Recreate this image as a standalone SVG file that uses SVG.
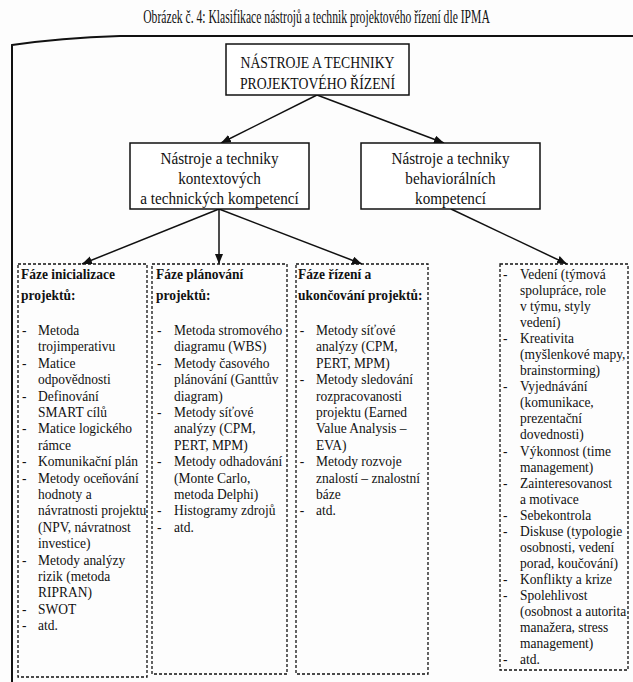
<svg xmlns="http://www.w3.org/2000/svg" width="633" height="682" viewBox="0 0 633 682">
<defs>
<marker id="arr" markerUnits="userSpaceOnUse" markerWidth="11" markerHeight="9" refX="10" refY="4" orient="auto">
<path d="M0,0 L10,4 L0,8 z" fill="#111"/>
</marker>
<style>
text{font-family:"Liberation Serif","Times New Roman",serif;fill:#111}
.title{font-size:18px}
.top{font-size:16px}
.mid{font-size:16px}
.it{font-size:15px}
.hd{font-size:15px;font-weight:bold}
.box{fill:#fff;stroke:#111;stroke-width:1.5}
.dash{fill:none;stroke:#111;stroke-width:1.3;stroke-dasharray:3 2}
.conn{stroke:#111;stroke-width:1.5;fill:none;marker-end:url(#arr)}
.frame{fill:none;stroke:#111;stroke-width:2}
</style>
</defs>
<rect width="633" height="682" fill="#fdfdfd"/>
<text class="title" transform="translate(316.5 23) scale(0.647 1)" text-anchor="middle" x="0" y="0">Obrázek č. 4: Klasifikace nástrojů a technik projektového řízení dle IPMA</text>
<path class="frame" d="M12,682 L12,45 Q60,38 120,36 L633,36"/>

<g id="connectors">
<line class="conn" x1="317" y1="95" x2="221" y2="143"/>
<line class="conn" x1="317" y1="95" x2="444" y2="143"/>
<line class="conn" x1="219" y1="209" x2="82" y2="264"/>
<line class="conn" x1="219" y1="209" x2="219" y2="264"/>
<line class="conn" x1="219" y1="209" x2="362" y2="264"/>
<line class="conn" x1="451" y1="209" x2="567" y2="264"/>
</g>

<g id="root">
<rect class="box" x="226" y="44" width="183" height="51"/>
<g transform="translate(317.5 0) scale(0.86 1)" text-anchor="middle">
<text class="top" x="0" y="68">NÁSTROJE A TECHNIKY</text>
<text class="top" x="0" y="89">PROJEKTOVÉHO ŘÍZENÍ</text>
</g>
</g>

<g id="ctx">
<rect class="box" x="130" y="143" width="179" height="66"/>
<g transform="translate(219.5 0) scale(0.95 1)" text-anchor="middle">
<text class="mid" x="0" y="164">Nástroje a techniky</text>
<text class="mid" x="0" y="184">kontextových</text>
<text class="mid" x="0" y="204">a technických kompetencí</text>
</g>
</g>

<g id="beh">
<rect class="box" x="361" y="143" width="179" height="66"/>
<g transform="translate(450.5 0) scale(0.95 1)" text-anchor="middle">
<text class="mid" x="0" y="164">Nástroje a techniky</text>
<text class="mid" x="0" y="184">behaviorálních</text>
<text class="mid" x="0" y="204">kompetencí</text>
</g>
</g>

<g id="init">
<rect class="dash" x="18" y="264" width="129" height="413"/>
<g transform="translate(21 0) scale(0.9 1)">
<text class="hd" x="0" y="279">Fáze inicializace</text>
<text class="hd" x="0" y="300">projektů:</text>
<text class="it" x="1" y="335">-</text><text class="it" x="19" y="335">Metoda</text>
<text class="it" x="19" y="351.4">trojimperativu</text>
<text class="it" x="1" y="367.8">-</text><text class="it" x="19" y="367.8">Matice</text>
<text class="it" x="19" y="384.2">odpovědnosti</text>
<text class="it" x="1" y="400.6">-</text><text class="it" x="19" y="400.6">Definování</text>
<text class="it" x="19" y="417">SMART cílů</text>
<text class="it" x="1" y="433.4">-</text><text class="it" x="19" y="433.4">Matice logického</text>
<text class="it" x="19" y="449.8">rámce</text>
<text class="it" x="1" y="466.2">-</text><text class="it" x="19" y="466.2">Komunikační plán</text>
<text class="it" x="1" y="482.6">-</text><text class="it" x="19" y="482.6">Metody oceňování</text>
<text class="it" x="19" y="499">hodnoty a</text>
<text class="it" x="19" y="515.4">návratnosti projektu</text>
<text class="it" x="19" y="531.8">(NPV, návratnost</text>
<text class="it" x="19" y="548.2">investice)</text>
<text class="it" x="1" y="564.6">-</text><text class="it" x="19" y="564.6">Metody analýzy</text>
<text class="it" x="19" y="581">rizik (metoda</text>
<text class="it" x="19" y="597.4">RIPRAN)</text>
<text class="it" x="1" y="613.8">-</text><text class="it" x="19" y="613.8">SWOT</text>
<text class="it" x="1" y="630.2">-</text><text class="it" x="19" y="630.2">atd.</text>
</g>
</g>

<g id="plan">
<rect class="dash" x="152" y="264" width="135" height="410"/>
<g transform="translate(156 0) scale(0.9 1)">
<text class="hd" x="0" y="279">Fáze plánování</text>
<text class="hd" x="0" y="300">projektů:</text>
<text class="it" x="1" y="335">-</text><text class="it" x="20" y="335">Metoda stromového</text>
<text class="it" x="20" y="351.4">diagramu (WBS)</text>
<text class="it" x="1" y="367.8">-</text><text class="it" x="20" y="367.8">Metody časového</text>
<text class="it" x="20" y="384.2">plánování (Ganttův</text>
<text class="it" x="20" y="400.6">diagram)</text>
<text class="it" x="1" y="417">-</text><text class="it" x="20" y="417">Metody síťové</text>
<text class="it" x="20" y="433.4">analýzy (CPM,</text>
<text class="it" x="20" y="449.8">PERT, MPM)</text>
<text class="it" x="1" y="466.2">-</text><text class="it" x="20" y="466.2">Metody odhadování</text>
<text class="it" x="20" y="482.6">(Monte Carlo,</text>
<text class="it" x="20" y="499">metoda Delphi)</text>
<text class="it" x="1" y="515.4">-</text><text class="it" x="20" y="515.4">Histogramy zdrojů</text>
<text class="it" x="1" y="531.8">-</text><text class="it" x="20" y="531.8">atd.</text>
</g>
</g>

<g id="ctrl">
<rect class="dash" x="296" y="264" width="132" height="410"/>
<g transform="translate(298 0) scale(0.9 1)">
<text class="hd" x="0" y="279">Fáze řízení a</text>
<text class="hd" x="0" y="300">ukončování projektů:</text>
<text class="it" x="2" y="335">-</text><text class="it" x="20" y="335">Metody síťové</text>
<text class="it" x="20" y="351.4">analýzy (CPM,</text>
<text class="it" x="20" y="367.8">PERT, MPM)</text>
<text class="it" x="2" y="384.2">-</text><text class="it" x="20" y="384.2">Metody sledování</text>
<text class="it" x="20" y="400.6">rozpracovanosti</text>
<text class="it" x="20" y="417">projektu (Earned</text>
<text class="it" x="20" y="433.4">Value Analysis –</text>
<text class="it" x="20" y="449.8">EVA)</text>
<text class="it" x="2" y="466.2">-</text><text class="it" x="20" y="466.2">Metody rozvoje</text>
<text class="it" x="20" y="482.6">znalostí – znalostní</text>
<text class="it" x="20" y="499">báze</text>
<text class="it" x="2" y="515.4">-</text><text class="it" x="20" y="515.4">atd.</text>
</g>
</g>

<g id="behlist">
<rect class="dash" x="500" y="264" width="128" height="406"/>
<g transform="translate(502 0) scale(0.9 1)">
<text class="it" x="1" y="279">-</text><text class="it" x="20" y="279">Vedení (týmová</text>
<text class="it" x="20" y="295.05">spolupráce, role</text>
<text class="it" x="20" y="311.1">v týmu, styly</text>
<text class="it" x="20" y="327.15">vedení)</text>
<text class="it" x="1" y="343.2">-</text><text class="it" x="20" y="343.2">Kreativita</text>
<text class="it" x="20" y="359.25">(myšlenkové mapy,</text>
<text class="it" x="20" y="375.3">brainstorming)</text>
<text class="it" x="1" y="391.35">-</text><text class="it" x="20" y="391.35">Vyjednávání</text>
<text class="it" x="20" y="407.4">(komunikace,</text>
<text class="it" x="20" y="423.45">prezentační</text>
<text class="it" x="20" y="439.5">dovednosti)</text>
<text class="it" x="1" y="455.55">-</text><text class="it" x="20" y="455.55">Výkonnost (time</text>
<text class="it" x="20" y="471.6">management)</text>
<text class="it" x="1" y="487.65">-</text><text class="it" x="20" y="487.65">Zainteresovanost</text>
<text class="it" x="20" y="503.7">a motivace</text>
<text class="it" x="1" y="519.75">-</text><text class="it" x="20" y="519.75">Sebekontrola</text>
<text class="it" x="1" y="535.8">-</text><text class="it" x="20" y="535.8">Diskuse (typologie</text>
<text class="it" x="20" y="551.85">osobnosti, vedení</text>
<text class="it" x="20" y="567.9">porad, koučování)</text>
<text class="it" x="1" y="583.95">-</text><text class="it" x="20" y="583.95">Konflikty a krize</text>
<text class="it" x="1" y="600">-</text><text class="it" x="20" y="600">Spolehlivost</text>
<text class="it" x="20" y="616.05">(osobnost a autorita</text>
<text class="it" x="20" y="632.1">manažera, stress</text>
<text class="it" x="20" y="648.15">management)</text>
<text class="it" x="1" y="664.2">-</text><text class="it" x="20" y="664.2">atd.</text>
</g>
</g>
</svg>
